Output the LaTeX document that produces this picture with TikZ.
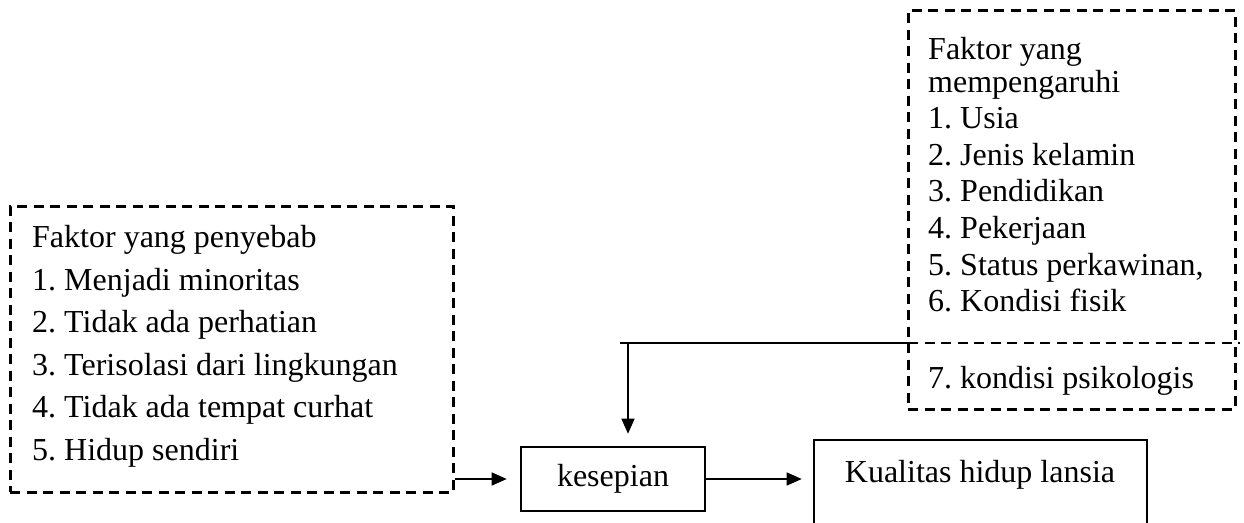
\documentclass[tikz,border=0pt]{standalone}
\usepackage{fontspec}
\setmainfont{Liberation Serif}
\usetikzlibrary{arrows.meta}
\frenchspacing
\begin{document}
\begin{tikzpicture}[x=1pt,y=-1pt,
  dbox/.style={draw, line width=3pt, dash pattern=on 10pt off 6.5pt, inner sep=0pt},
  sbox/.style={draw, line width=2.6pt, inner sep=0pt},
  conn/.style={line width=1.4pt},
  arr/.style={line width=1.4pt, -{Triangle[length=15pt,width=13pt]}},
  txt/.style={font=\fontsize{32}{42.6}\selectfont\frenchspacing, align=left, inner sep=0pt}
]
\useasboundingbox (0,0) rectangle (1244,522);
% left dashed box
\node[dbox, minimum width=443pt, minimum height=286pt] (cause) at (231.5,349) {};
\node[txt, anchor=north west] (causetxt) at (32,225) {Faktor yang penyebab\\1. Menjadi minoritas\\2. Tidak ada perhatian\\3. Terisolasi dari lingkungan\\4. Tidak ada tempat curhat\\5. Hidup sendiri};
% right dashed box
\node[dbox, minimum width=327pt, minimum height=399pt] (infl) at (1071.5,209.5) {};
\node[txt, anchor=north west, font=\fontsize{32}{36.6}\selectfont\frenchspacing] (infltxt) at (928,37) {Faktor yang\\[-4pt]mempengaruhi\\1. Usia\\2. Jenis kelamin\\3. Pendidikan\\4. Pekerjaan\\5. Status perkawinan,\\6. Kondisi fisik};
\node[txt, anchor=base west] (psiko) at (928,388) {7. kondisi psikologis};
\coordinate (divL) at (908,343);
\coordinate (divR) at (1240,343);
\draw[line width=2pt, dash pattern=on 10pt off 6.5pt] (divL) -- (divR);
% kesepian
\node[sbox, minimum width=184pt, minimum height=64pt, font=\fontsize{32}{36}\selectfont] (kes) at (613,479) {kesepian};
% kualitas box (open at bottom, cut by page)
\node[sbox, minimum width=333pt, minimum height=110pt] (kual) at (980.5,495) {};
\node[txt, anchor=base] (kualtxt) at (980,482) {Kualitas hidup lansia};
% connectors
\coordinate (lineL) at (620,343);
\coordinate (junc) at (628,343);
\draw[conn] (lineL) -- (divL);
\draw[arr, shorten >=12pt] (junc) -- (junc |- kes.north);
\draw[arr, shorten >=13pt] (cause.east |- kes.west) -- (kes.west);
\draw[arr, shorten >=11pt] (kes.east) -- (kes.east -| kual.west);
\end{tikzpicture}
\end{document}
